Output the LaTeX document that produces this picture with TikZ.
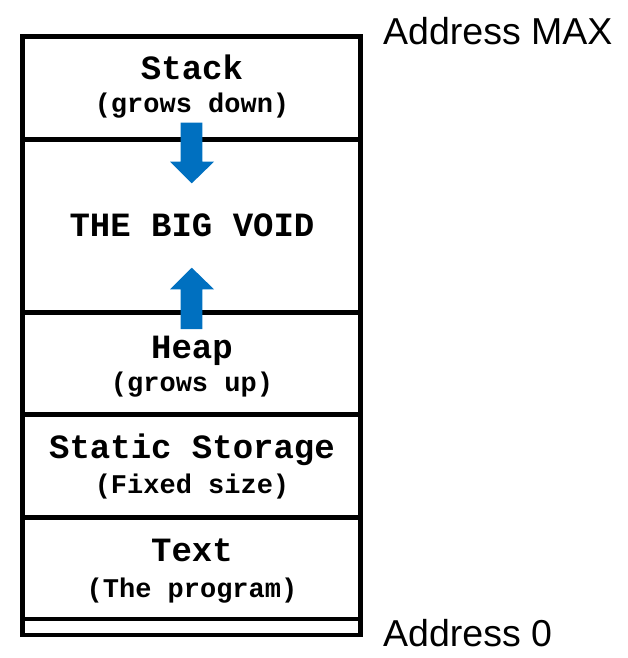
\documentclass[tikz,border=0pt]{standalone}
\usepackage{fontspec}
\setmainfont{Liberation Sans}
\setmonofont{Liberation Mono}
\usepackage{tikz}
\usetikzlibrary{shapes,arrows}
\usepackage{xcolor}
\definecolor{flechaazul}{RGB}{0,112,192}

\begin{document}
\begin{tikzpicture}[x=1pt,y=-1pt,
    titulo/.style={anchor=base,inner sep=0pt,font=\ttfamily\bfseries\fontsize{34}{40}\selectfont},
    nota/.style={anchor=base,inner sep=0pt,font=\ttfamily\bfseries\fontsize{27}{32}\selectfont},
    direccion/.style={anchor=base west,inner sep=0pt,font=\fontsize{37.5}{44}\selectfont},
    flecha/.style={fill=flechaazul,draw=none}]
            \useasboundingbox (0,0) rectangle (628,658);
            \draw[line width=4.5pt] (22.7,36.5) rectangle (360.5,635); % bloque de memoria
            \foreach \y in {139.5,312.5,414.5,517.5,619}
            \draw[line width=4.5pt] (22.7,\y) -- (360.5,\y);
            % textos de cada zona
            \node[titulo] (stack) at (192,80) {Stack};
            \node[nota] (stacknota) at (192,113) {(grows down)};
            \node[titulo] (void) at (192,236) {THE BIG VOID};
            \node[titulo] (heap) at (192,358) {Heap};
            \node[nota] (heapnota) at (192,391) {(grows up)};
            \node[titulo] (static) at (192,458) {Static Storage};
            \node[nota] (staticnota) at (192,493) {(Fixed size)};
            \node[titulo] (text) at (192,561) {Text};
            \node[nota] (textnota) at (192,597) {(The program)};
            \node[direccion] (addrmax) at (383,45) {Address MAX};
            \node[direccion] (addrzero) at (383,646) {Address 0};
            % flechas azules
            \fill[flecha] (180.7,122.7) -- (202.3,122.7) -- (202.3,161.7) -- (214,161.7)
                -- (191.8,183.3) -- (170,161.7) -- (180.7,161.7) -- cycle;
            \fill[flecha] (180.7,329) -- (202.3,329) -- (202.3,289.3) -- (214,289.3)
                -- (191.8,267.7) -- (170,289.3) -- (180.7,289.3) -- cycle;
            \end{tikzpicture}
\end{document}
